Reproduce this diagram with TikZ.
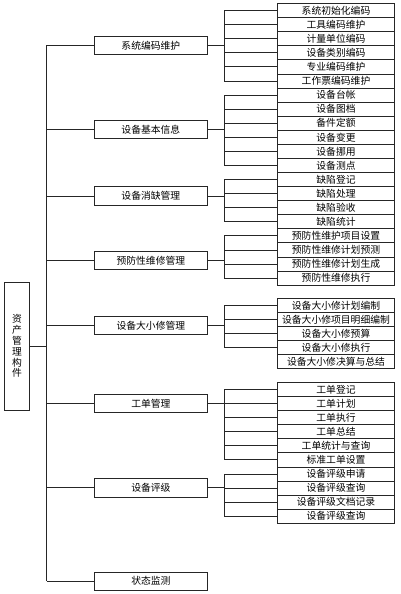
\documentclass[tikz,border=0pt]{standalone}
\usepackage{fontspec}
\newfontfamily\cjk{Noto Sans CJK SC}
\begin{document}
\begin{tikzpicture}[x=1pt,y=-1pt,
  every node/.style={inner sep=0pt, outer sep=0pt},
  line/.style={draw=black!85, line width=0.75pt},
  leaf/.style={line, minimum width=116.6pt, minimum height=14.08pt, font=\cjk\fontsize{9.8}{10}\selectfont},
  mid/.style={line, minimum width=112.3pt, minimum height=18.5pt, font=\cjk\fontsize{9.8}{10}\selectfont},
  rootbox/.style={line, minimum width=24.6pt, minimum height=127.7pt, align=center, font=\cjk\fontsize{9.8}{10.8}\selectfont}]
\useasboundingbox (0,0) rectangle (400,594);
\coordinate (lbus) at (46.7,0);
\coordinate (rbus) at (224,0);
% root
\node[rootbox] (root) at (17,346.2) {资\\产\\管\\理\\构\\件};
% middle boxes
\node[mid] (m1) at (150.85,45.5) {系统编码维护};
\node[mid] (m2) at (150.85,129.5) {设备基本信息};
\node[mid] (m3) at (150.85,196) {设备消缺管理};
\node[mid] (m4) at (150.85,260.5) {预防性维修管理};
\node[mid] (m5) at (150.85,325.6) {设备大小修管理};
\node[mid] (m6) at (150.85,403.3) {工单管理};
\node[mid] (m7) at (150.85,487.8) {设备评级};
\node[mid] (m8) at (150.85,581.2) {状态监测};
% leaves group 1-4
\foreach \t [count=\i from 0] in {系统初始化编码,工具编码维护,计量单位编码,设备类别编码,专业编码维护,工作票编码维护}
  \node[leaf] (a\i) at (336,{3.5+14.08*\i+7.04}) {\t};
\foreach \t [count=\i from 0] in {设备台帐,设备图档,备件定额,设备变更,设备挪用,设备测点}
  \node[leaf] (b\i) at (336,{3.5+14.08*(\i+6)+7.04}) {\t};
\foreach \t [count=\i from 0] in {缺陷登记,缺陷处理,缺陷验收,缺陷统计}
  \node[leaf] (c\i) at (336,{3.5+14.08*(\i+12)+7.04}) {\t};
\foreach \t [count=\i from 0] in {预防性维护项目设置,预防性维修计划预测,预防性维修计划生成,预防性维修执行}
  \node[leaf] (d\i) at (336,{3.5+14.08*(\i+16)+7.04}) {\t};
\foreach \t [count=\i from 0] in {设备大小修计划编制,设备大小修项目明细编制,设备大小修预算,设备大小修执行,设备大小修决算与总结}
  \node[leaf] (e\i) at (336,{298.3+14.08*\i+7.04}) {\t};
\foreach \t [count=\i from 0] in {工单登记,工单计划,工单执行,工单总结,工单统计与查询,标准工单设置}
  \node[leaf] (f\i) at (336,{382.3+14.1*\i+7.05}) {\t};
\foreach \t [count=\i from 0] in {设备评级申请,设备评级查询,设备评级文档记录,设备评级查询}
  \node[leaf] (g\i) at (336,{382.3+14.1*(\i+6)+7.05}) {\t};
% left bus
\draw[line] (m1.west -| lbus) -- (m8.west -| lbus);
\foreach \m in {m1,m2,m3,m4,m5,m6,m7,m8}
  \draw[line] (\m.west -| lbus) -- (\m.west);
\draw[line] (root.east) -- (root.east -| lbus);
% group buses
\foreach \m/\p/\last in {m1/a/5,m2/b/5,m3/c/3,m4/d/3,m5/e/3,m6/f/5,m7/g/3}{
  \draw[line] (\m.east) -- (\m.east -| rbus);
  \draw[line] (\p0.west -| rbus) -- (\p\last.west -| rbus);
  \foreach \k in {0,...,\last}
    \draw[line] (\p\k.west -| rbus) -- (\p\k.west);
}
\end{tikzpicture}
\end{document}
